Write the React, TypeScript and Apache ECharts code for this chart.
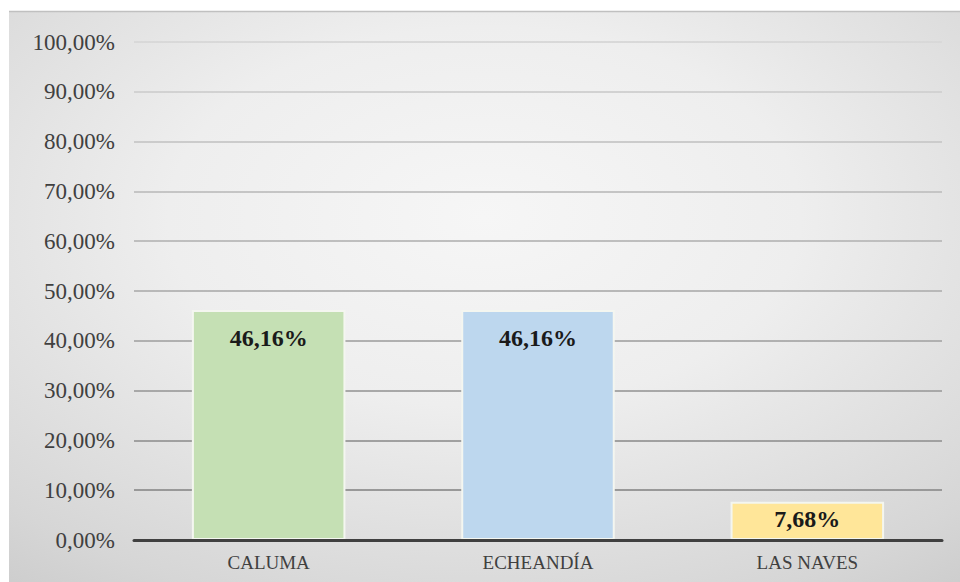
import React, { useEffect, useRef } from "react";
import * as echarts from "echarts";

const categories = ["CALUMA", "ECHEANDÍA", "LAS NAVES"];
const values = [46.16, 46.16, 7.68];
const barColors = ["#c5e0b4", "#bdd7ee", "#ffe699"];
const labelDistances = [16, 16, 5];
const yTicks = { min: 0, max: 100, interval: 10 };

const fmt = (v: number) => v.toFixed(2).replace(".", ",") + "%";

export default function App() {
  const ref = useRef<HTMLDivElement>(null);
  useEffect(() => {
    const chart = echarts.init(ref.current!, null, { renderer: "svg" });
    const serif = "'Liberation Serif', 'Times New Roman', serif";
    chart.setOption({
      animation: false,
      backgroundColor: "#ffffff",
      graphic: [
        {
          type: "rect",
          z: -10,
          silent: true,
          shape: { x: 9, y: 11, width: 951, height: 571 },
          style: {
            fill: new echarts.graphic.RadialGradient(0.5, 0.36, 0.95, [
              { offset: 0, color: "#f6f6f6" },
              { offset: 0.35, color: "#eeeeee" },
              { offset: 0.75, color: "#d6d6d6" },
              { offset: 1, color: "#c2c2c2" },
            ]),
          },
        },
        {
          type: "line",
          z: -9,
          silent: true,
          shape: { x1: 9, y1: 11.5, x2: 960, y2: 11.5 },
          style: { stroke: "#c0c0c0", lineWidth: 1.5 },
        },
      ],
      grid: { left: 134, right: 18, top: 42, bottom: 42, containLabel: false },
      xAxis: {
        type: "category",
        data: categories,
        axisTick: { show: false },
        axisLine: { show: true, lineStyle: { color: "#404040", width: 3 } },
        axisLabel: { color: "#404040", fontFamily: serif, fontSize: 19, margin: 13 },
        z: 10,
      },
      yAxis: {
        type: "value",
        min: yTicks.min,
        max: yTicks.max,
        interval: yTicks.interval,
        axisLine: { show: false },
        axisTick: { show: false },
        axisLabel: {
          color: "#404040",
          fontFamily: serif,
          fontSize: 23,
          margin: 19,
          formatter: (v: number) => fmt(v),
        },
        splitLine: {
          lineStyle: {
            width: 2,
            color: new echarts.graphic.LinearGradient(0, 0, 0, 582, [
              { offset: 0, color: "#dedede" },
              { offset: 0.5, color: "#b8b8b8" },
              { offset: 1, color: "#8a8a8a" },
            ], true),
          },
        },
      },
      series: [
        {
          type: "bar",
          barCategoryGap: "43%",
          data: values.map((v, i) => ({
            value: v,
            itemStyle: { color: barColors[i], borderColor: "#f4f6f0", borderWidth: 2 },
            label: { distance: labelDistances[i] },
          })),
          label: {
            show: true,
            position: "insideTop",
            fontFamily: serif,
            fontWeight: "bold",
            fontSize: 24,
            color: "#1a1a1a",
            formatter: (p: any) => fmt(p.value),
          },
        },
      ],
    });
    return () => chart.dispose();
  }, []);
  return (
    <div
      ref={ref}
      style={{ position: "absolute", left: 0, top: 0, width: 960, height: 582 }}
    />
  );
}
